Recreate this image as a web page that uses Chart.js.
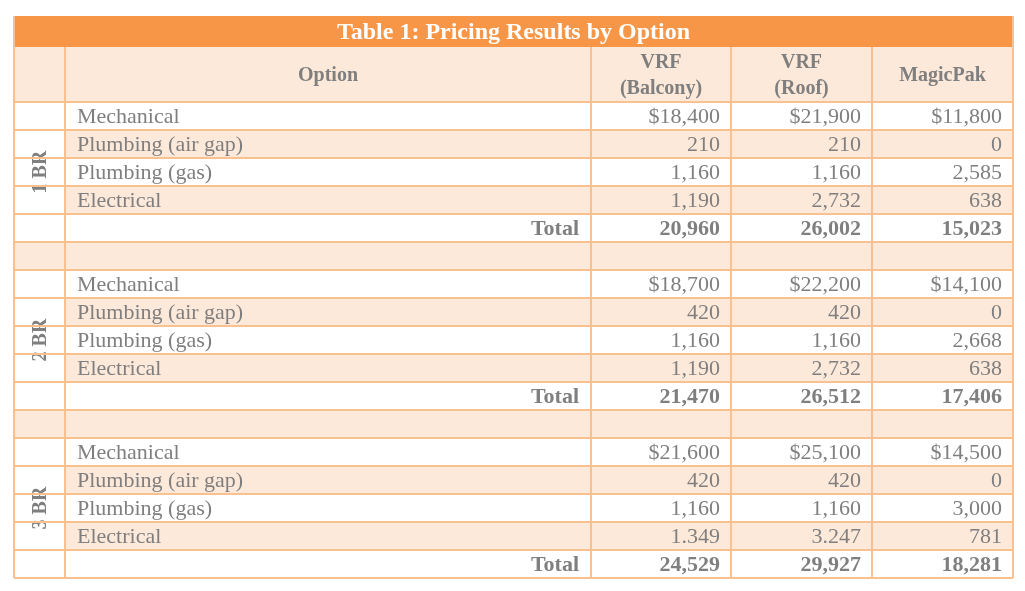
<!DOCTYPE html>
<html>
<head>
<meta charset="utf-8">
<script src="https://cdn.jsdelivr.net/npm/chart.js@4"></script>
<style>body{margin:0;background:#fff}</style>
</head>
<body>
<canvas id="tabla" width="1025" height="591"></canvas>
<script>
const titulo = 'Table 1: Pricing Results by Option';
const columnas = ['Option', 'VRF\n(Balcony)', 'VRF\n(Roof)', 'MagicPak'];
const grupos = ['1 BR', '2 BR', '3 BR'];
const partidas = ['Mechanical', 'Plumbing (air gap)', 'Plumbing (gas)', 'Electrical', 'Total'];
const vrfBalcon = [
    ['$18,400', '210', '1,160', '1,190', '20,960'],
    ['$18,700', '420', '1,160', '1,190', '21,470'],
    ['$21,600', '420', '1,160', '1.349', '24,529']
];
const vrfTecho = [
    ['$21,900', '210', '1,160', '2,732', '26,002'],
    ['$22,200', '420', '1,160', '2,732', '26,512'],
    ['$25,100', '420', '1,160', '3.247', '29,927']
];
const magicPak = [
    ['$11,800', '0', '2,585', '638', '15,023'],
    ['$14,100', '0', '2,668', '638', '17,406'],
    ['$14,500', '0', '3,000', '781', '18,281']
];

const naranja = '#F79646', durazno = '#FDE9D9', borde = '#FAC090', gris = '#7F7F7F';
const colX = [14, 65, 591, 731, 872, 1013];
const top0 = 16, headTop = 47, bodyTop = 102, alto = 28;

const dibujarTabla = {
    id: 'dibujarTabla',
    afterDraw(chart) {
        const c = chart.ctx, sx = chart.scales.x, sy = chart.scales.y;
        const px = v => sx.getPixelForValue(v), py = v => sy.getPixelForValue(v);
        const rect = (x0, y0, x1, y1, col) => { c.fillStyle = col; c.fillRect(px(x0), py(y0), px(x1) - px(x0), py(y1) - py(y0)); };
        const linea = (x0, y0, x1, y1) => { c.beginPath(); c.moveTo(px(x0), py(y0)); c.lineTo(px(x1), py(y1)); c.stroke(); };
        c.save();
        // título
        rect(colX[0], top0, colX[5], headTop, naranja);
        c.fillStyle = '#fff'; c.font = 'bold 24px "Liberation Serif"';
        c.textAlign = 'center'; c.textBaseline = 'middle';
        c.fillText(titulo, px((colX[0] + colX[5]) / 2), py((top0 + headTop) / 2) + 1);
        // encabezado
        rect(colX[0], headTop, colX[5], bodyTop, durazno);
        c.fillStyle = gris; c.font = 'bold 20px "Liberation Serif"';
        columnas.forEach((t, i) => {
            const xm = (colX[i + 1] + colX[i + 2]) / 2;
            const ls = t.split('\n');
            ls.forEach((l, j) => c.fillText(l, px(xm), py((headTop + bodyTop) / 2 + (j - (ls.length - 1) / 2) * 26) + 1));
        });
        // filas
        let y = bodyTop;
        const filasH = [];
        grupos.forEach((g, gi) => {
            const yg = y;
            partidas.forEach((p, pi) => {
                rect(colX[1], y, colX[5], y + alto, pi % 2 ? durazno : '#fff');
                c.fillStyle = gris;
                c.textBaseline = 'middle';
                const esTotal = pi === partidas.length - 1;
                c.font = (esTotal ? 'bold 22px' : '22px') + ' "Liberation Serif"';
                c.textAlign = esTotal ? 'right' : 'left';
                c.fillText(p, esTotal ? px(colX[2] - 12) : px(colX[1] + 12), py(y + alto / 2) + 1);
                c.textAlign = 'right';
                [vrfBalcon, vrfTecho, magicPak].forEach((s, si) => c.fillText(s[gi][pi], px(colX[si + 3] - 11), py(y + alto / 2) + 1));
                filasH.push(y);
                y += alto;
            });
            rect(colX[0], yg, colX[1], y, '#fff');
            c.save();
            c.translate(px((colX[0] + colX[1]) / 2), py((yg + y) / 2));
            c.rotate(-Math.PI / 2);
            c.textAlign = 'center'; c.font = 'bold 20px "Liberation Serif"'; c.fillStyle = gris;
            c.fillText(g, 0, 1);
            c.restore();
            if (gi < grupos.length - 1) {
                rect(colX[0], y, colX[5], y + alto, durazno);
                filasH.push(y);
                y += alto;
            }
        });
        // bordes
        c.strokeStyle = borde; c.lineWidth = 2;
        linea(colX[0], bodyTop, colX[5], bodyTop);
        filasH.forEach((fy, i) => { if (i) linea(colX[0], fy, colX[5], fy); });
        linea(colX[0], y, colX[5], y);
        colX.forEach((x, i) => linea(x, i === 0 || i === 5 ? top0 : headTop, x, y));
        c.restore();
    }
};

new Chart(document.getElementById('tabla'), {
    type: 'scatter',
    data: { datasets: [{ data: [] }] },
    options: {
        responsive: false,
        animation: false,
        devicePixelRatio: 1,
        layout: { padding: 0 },
        plugins: { legend: { display: false }, tooltip: { enabled: false } },
        scales: {
            x: { type: 'linear', min: 0, max: 1025, display: false },
            y: { type: 'linear', min: 0, max: 591, reverse: true, display: false }
        }
    },
    plugins: [dibujarTabla]
});
</script>
</body>
</html>
